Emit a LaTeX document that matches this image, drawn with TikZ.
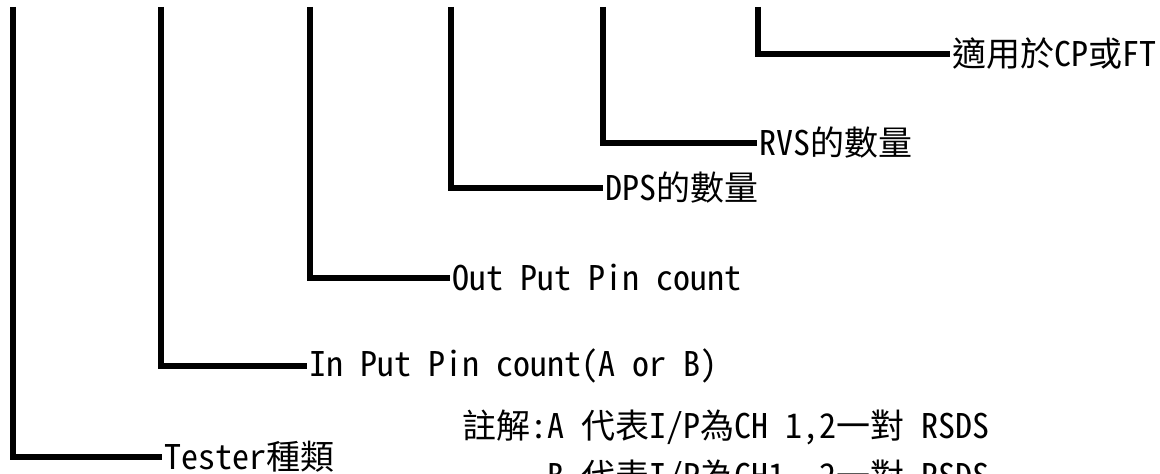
\documentclass[tikz,border=0pt]{standalone}
\usepackage{fontspec}
\setmainfont{Noto Sans CJK TC}[RawFeature=+hwid]
\usetikzlibrary{positioning}

\begin{document}
\begin{tikzpicture}[x=0.5pt, y=-0.5pt,
    lead/.style={line width=2.8pt},
    code/.style={anchor=west, inner sep=1pt, font=\fontsize{17pt}{20pt}\selectfont}]
  \useasboundingbox (0,0) rectangle (1160,474);

  % Tops of the code fields
  \coordinate (f1) at (13,7);
  \coordinate (f2) at (161,7);
  \coordinate (f3) at (310,7);
  \coordinate (f4) at (451,7);
  \coordinate (f5) at (603,7);
  \coordinate (f6) at (758,7);

  % Field labels
  \node[code] (tester) at (162,457) {Tester種類};
  \node[code] (inpin) at (307,366) {In Put Pin count(A or B)};
  \node[code] (outpin) at (450,278) {Out Put Pin count};
  \node[code] (dps) at (603,188) {DPS的數量};
  \node[code] (rvs) at (757,143) {RVS的數量};
  \node[code] (cpft) at (950,54) {適用於CP或FT};

  % Leaders
  \draw[lead] (f1) |- (tester.west);
  \draw[lead] (f2) |- (inpin.west);
  \draw[lead] (f3) |- (outpin.west);
  \draw[lead] (f4) |- (dps.west);
  \draw[lead] (f5) |- (rvs.west);
  \draw[lead] (f6) |- (cpft.west);

  % Note
  \node[code, anchor=base west] (note1) at (460,439) {註解:A 代表I/P為CH 1,2一對 RSDS};
  \node[code, anchor=base west] (note2) at (460,489) {\phantom{註解:}B 代表I/P為CH1, 2一對 RSDS};
\end{tikzpicture}
\end{document}
